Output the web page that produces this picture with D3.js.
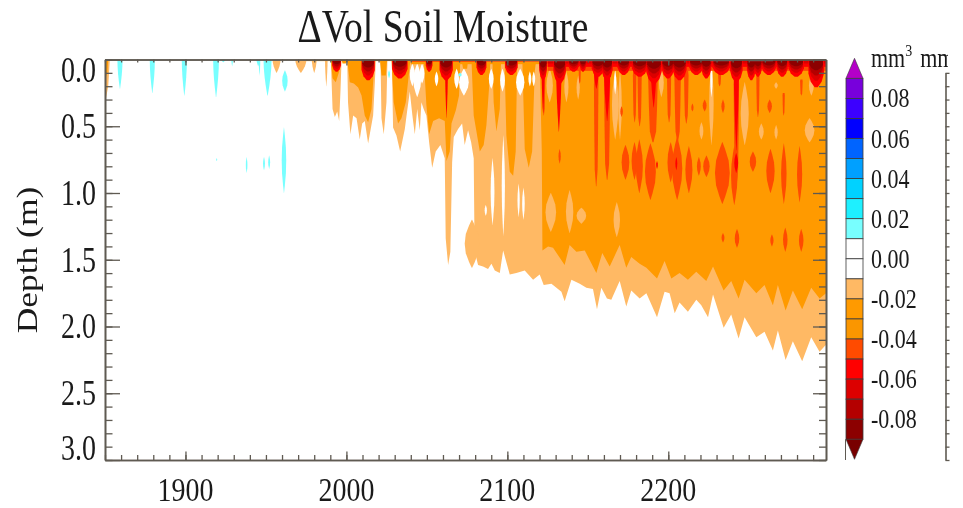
<!DOCTYPE html>
<html>
<head>
<meta charset="utf-8">
<script src="https://cdnjs.cloudflare.com/ajax/libs/d3/7.8.5/d3.min.js"></script>
<style>
  html, body { margin: 0; padding: 0; background: #fff; }
  svg { display: block; filter: blur(0.45px); }
  text { font-family: "Liberation Serif", serif; fill: #1a1a1a; }
  .field { filter: blur(0.7px); }
</style>
</head>
<body>
<div id="chart"></div>
<script>
// colour levels of the bar, top to bottom (level is the upper edge of the cell)
const barLevels = [0.09, 0.08, 0.07, 0.06, 0.05, 0.04, 0.03, 0.02, 0.01, 0.00, -0.01, -0.02, -0.03, -0.04, -0.05, -0.06, -0.07, -0.08];
const barColors = ["#7800dc", "#3c00ff", "#0000ff", "#0064ff", "#00a0ff", "#00d2ff", "#1ef0ff", "#78ffff", "#ffffff", "#ffffff",
  "#ffb964", "#ff9a00", "#fa9600", "#ff4b00", "#ff0000", "#dc0000", "#b40000", "#8c0000"];
const barLabels = [0.08, 0.06, 0.04, 0.02, 0.00, -0.02, -0.04, -0.06, -0.08];

const depthLabels = [0, 0.5, 1, 1.5, 2, 2.5, 3];
const yearLabels = [1900, 2000, 2100, 2200];

// lower edge of the -0.01 contour, [year, depth]
const lightEdge = [[1850, 0.33], [1852, 0.2], [1853, 0], [1990.3, 0], [1991.4, 0.37], [1992.8, 0.43], [1994.3, 0.39], [1995.5, 0.46], [1996.3, 0.24], [1997, 0],
  [2000.5, 0], [2001, 0.32], [2002.5, 0.56], [2004.2, 0.42], [2006.3, 0.44], [2008.3, 0.6], [2009.8, 0.48], [2011.4, 0.46], [2013.5, 0.63], [2016.6, 0.42], [2017.6, 0.19], [2018.3, 0],
  [2021.2, 0], [2021.8, 0.44], [2023.2, 0.56], [2024.9, 0.32], [2025.5, 0], [2028.2, 0], [2029, 0.51], [2031.1, 0.57], [2033.4, 0.69], [2036.3, 0.52], [2037.7, 0.39], [2039.4, 0.24],
  [2041, 0.42], [2042.5, 0.56], [2044, 0.37], [2045.6, 0.53], [2046.6, 0.32], [2048, 0.37], [2049.7, 0.42], [2051.4, 0.62], [2053.3, 0.81], [2055.5, 0.69], [2058.4, 0.64], [2061.1, 0.74],
  [2061.7, 1.34], [2063.2, 1.54], [2064.6, 1.44], [2065.7, 0.77], [2066.7, 0.58], [2069.4, 0.52], [2071.9, 0.48], [2073.5, 0.64], [2075.6, 0.53], [2077.5, 0.62], [2079.1, 0.74], [2079.5, 1.24],
  [2079.8, 1.44], [2081.8, 1.54], [2084.9, 1.55], [2088, 1.57], [2090.1, 1.53], [2092.2, 1.58], [2095.3, 1.6], [2097.4, 1.43], [2101.5, 1.61], [2105.6, 1.6], [2110.8, 1.58], [2116, 1.65],
  [2120.1, 1.61], [2122.6, 1.69], [2127.4, 1.68], [2130.5, 1.71], [2133.6, 1.74], [2135.6, 1.81], [2139.8, 1.65], [2145, 1.68], [2149.1, 1.71], [2153.2, 1.72], [2155.7, 1.87], [2158.4, 1.71],
  [2161.9, 1.79], [2164.6, 1.8], [2169.8, 1.66], [2173.9, 1.85], [2177, 1.73], [2182.2, 1.79], [2186.4, 1.75], [2193, 1.93], [2197.7, 1.74], [2200.8, 1.75], [2204, 1.9], [2207, 1.82],
  [2212.2, 1.89], [2217.4, 1.8], [2220.5, 1.84], [2224.7, 1.93], [2227.8, 1.76], [2234.4, 2.01], [2239.1, 1.91], [2243.7, 2.09], [2247.4, 1.93], [2254.7, 2.08], [2259.8, 2.04], [2265, 2.18],
  [2268.1, 2.03], [2272.9, 2.25], [2277.4, 2.11], [2283.2, 2.26], [2288.8, 2.08], [2294, 2.19], [2297.7, 2.14], [2298, 2.14]];

// lower edge of the -0.02 contour, [year, depth]
const midEdge = [[1850, 0.15], [1851.5, 0.1], [1852, 0], [1990.3, 0], [1991.4, 0.14], [1993.4, 0.17], [1995.5, 0.09], [1996.3, 0], [1997, 0], [1997.6, 0.03], [1999.6, 0.03], [2000.5, 0],
  [2002.1, 0.17], [2004.6, 0.18], [2007.3, 0.21], [2009.4, 0.27], [2011.4, 0.42], [2013.5, 0.47], [2015.6, 0.37], [2017, 0.09], [2017.6, 0], [2020.8, 0], [2021.8, 0.12], [2024.5, 0.12], [2025.3, 0],
  [2028, 0], [2029.4, 0.32], [2032.1, 0.48], [2034.2, 0.44], [2036.9, 0.32], [2039, 0.09], [2039.8, 0], [2048.1, 0], [2049.7, 0.34], [2051.4, 0.56], [2053.9, 0.46], [2057.6, 0.44], [2061.1, 0.46],
  [2062.2, 0.76], [2064.2, 0.69], [2065.3, 0.48], [2068, 0.38], [2070, 0.27], [2070.8, 0], [2071.5, 0], [2072.5, 0.07], [2075, 0.07], [2075.6, 0], [2077.7, 0], [2079.1, 0.42], [2080.8, 0.54],
  [2082.9, 0.69], [2085.3, 0.64], [2087, 0.49], [2088.6, 0.22], [2089.5, 0], [2090.7, 0], [2091.5, 0.32], [2093.2, 0.54], [2095.3, 0.37], [2096.1, 0], [2098.2, 0], [2099.4, 0.57], [2101.5, 0.84],
  [2103.6, 0.87], [2105.2, 0.69], [2106, 0.09], [2106.7, 0], [2109.3, 0], [2110.8, 0.67], [2113.3, 0.81], [2115.4, 0.69], [2117, 0.09], [2118, 0], [2120.1, 0], [2121.4, 0.69],
  [2121.8, 1.43], [2125.3, 1.4], [2128.4, 1.41], [2135.6, 1.54], [2138.7, 1.39], [2142.9, 1.44], [2148.1, 1.43], [2155.3, 1.6], [2159, 1.45], [2163.6, 1.55], [2169.8, 1.39], [2173.9, 1.56],
  [2177, 1.48], [2182.2, 1.53], [2186.4, 1.56], [2193, 1.64], [2197.7, 1.51], [2201.9, 1.64], [2207, 1.6], [2212.2, 1.65], [2217.4, 1.59], [2223.6, 1.66], [2227.8, 1.55], [2234.4, 1.73],
  [2239.1, 1.66], [2243.7, 1.79], [2247.4, 1.65], [2254.7, 1.75], [2259.8, 1.69], [2265, 1.84], [2268.1, 1.69], [2272.9, 1.88], [2277.4, 1.73], [2283.2, 1.87], [2288.8, 1.71], [2294, 1.79], [2298, 1.75]];

// patches as [year, half width in years, top depth, bottom depth]
const lightBlob = [[2078, 4.5, 1.2, 1.56]];
const lightPatches = [[2127, 3.3, 1.0, 1.29], [2138.7, 2.3, 0.98, 1.3], [2146, 3, 1.11, 1.23], [2168, 2, 1.07, 1.33],
  [2126.3, 2, 0.07, 0.32], [2136.7, 1.3, 0.09, 0.32], [2144, 1, 0.12, 0.3], [2167, 2, 0.08, 0.6], [2170, 1.1, 0.08, 0.6], [2195.7, 1.5, 0.07, 0.28],
  [2226.8, 1.4, 0.02, 0.64], [2247.5, 2.5, 0.17, 0.64], [2257.8, 1.5, 0.48, 0.6], [2220.6, 1.2, 0.47, 0.6], [2267, 1, 0.17, 0.22], [2267, 1, 0.49, 0.6],
  [2287.8, 3, 0.44, 0.62], [2288.9, 1.5, 0.12, 0.27]];
const whiteHoles = [[2041, 1.6, 0.03, 0.2], [2044, 2.4, 0.03, 0.28], [2047, 1.5, 0.03, 0.18], [2056, 1.1, 0.09, 0.2], [2068.5, 1.5, 0.07, 0.22], [2073, 3, 0.07, 0.27], [2090, 1.5, 0.07, 0.22], [2097, 1.5, 0.07, 0.24], [2108, 2.6, 0.07, 0.27],
  [2114, 0.9, 0.09, 0.2], [2116.4, 0.9, 0.09, 0.2], [2090.8, 1.2, 0.74, 1.24], [2097.5, 1, 0.57, 1.32], [2086.6, 0.7, 1.09, 1.17], [2107, 0.7, 0.93, 1.18], [2110, 0.8, 0.96, 1.2],
  [2167, 0.7, 0.08, 0.26], [2226.8, 0.7, 0.02, 0.28]];
const orangePatches = [[2173.4, 2.4, 0.64, 0.9], [2179, 1.8, 0.62, 0.9], [2182, 2.2, 0.6, 1.0], [2188.9, 3.4, 0.63, 1.05], [2201.5, 2, 0.62, 0.92], [2205.5, 3.2, 0.58, 1.05], [2212.8, 2.2, 0.65, 1.0], [2219, 1.2, 0.73, 0.87],
  [2223.7, 2, 0.72, 0.88], [2233.6, 4.6, 0.62, 1.08], [2241, 2, 0.65, 1.09], [2252.6, 2, 0.69, 0.84], [2263.5, 2.6, 0.67, 1.0], [2271.8, 1.7, 0.63, 1.08], [2281.6, 1.6, 0.65, 1.07],
  [2132.5, 0.7, 0.67, 0.78], [2171, 0.8, 0.35, 0.43], [2222.6, 1.2, 0.3, 0.39], [2234, 1, 0.3, 0.4], [2263, 1.4, 0.3, 0.4], [2215, 0.7, 0.33, 0.39],
  [2234, 0.9, 1.3, 1.37], [2242.7, 1.4, 1.27, 1.41], [2264.4, 1, 1.31, 1.4], [2272.7, 1.4, 1.26, 1.44], [2282.6, 1.4, 1.27, 1.44]];
const orangeStreaks = [[2155.2, 1.4, 0.1, 0.95], [2162, 1.9, 0.1, 0.9], [2179.1, 1.1, 0.08, 0.47], [2182.2, 1.3, 0.08, 0.5], [2190.5, 3, 0.08, 0.62], [2200.5, 1.3, 0.08, 0.47], [2205.8, 2, 0.08, 0.62],
  [2211.2, 1.4, 0.08, 0.48], [2231.9, 1, 0.08, 0.2], [2255.7, 1, 0.1, 0.43], [2271.7, 0.7, 0.25, 0.42], [2282.7, 0.8, 0.15, 0.27], [2242.3, 1.7, 0.1, 0.95], [2122.6, 1, 0.05, 0.42], [2145, 0.7, 0.05, 0.18]];
const redPatches = [[2205, 0.6, 0.73, 0.83], [2193, 0.5, 0.76, 0.82], [2242.2, 1.2, 0.7, 0.85]];
// red plumes hanging from the surface
const redPlumes = [[2062.2, 0.9, 0.04, 0.44], [2122.2, 1, 0.03, 0.4], [2132, 1.7, 0.05, 0.54], [2162, 2, 0.05, 0.46], [2242.3, 1.6, 0.05, 0.68], [2190.9, 1.7, 0.08, 0.36], [2155.3, 1.6, 0.08, 0.22]];
const shallowPlumes = [[1956.6, 2.5, 0, 0.1], [1971.7, 3.5, 0, 0.1], [1980, 1.5, 0, 0.1], [1987.5, 0.8, 0, 0.2]];
// surface maxima as [year, half width, depth of the -0.06 edge]
const surfaceBlobs = [[1993.9, 2.4, 0.07], [2013.5, 3.6, 0.12], [2033.2, 4.2, 0.11], [2051.4, 1.8, 0.07], [2062, 3.6, 0.12], [2083.9, 2.7, 0.09], [2102.5, 3.4, 0.09], [2122.2, 2.1, 0.12], [2132.5, 3.4, 0.14],
  [2141.2, 3, 0.07], [2147, 1.8, 0.07], [2156.3, 3.4, 0.1], [2162, 3, 0.12], [2172.3, 3.4, 0.09], [2182.2, 4.2, 0.1], [2191.1, 4.2, 0.14], [2199.8, 3.4, 0.11], [2207, 3.8, 0.12],
  [2217.4, 3.8, 0.09], [2223.6, 2.7, 0.11], [2232.9, 4.8, 0.09], [2242.3, 3.4, 0.13], [2251.6, 2.4, 0.12], [2255.7, 2.2, 0.1], [2262.5, 4, 0.09], [2270.8, 3, 0.1], [2279.5, 4.2, 0.1], [2291.9, 4.2, 0.16]];
const surfaceScale = [1.3, 1, 0.75, 0.5];
const surfaceColors = ["#ff0000", "#dc0000", "#b40000", "#8c0000"];
// start year, end year, depth, colour
const surfaceBands = [[1975, 2040, 0.012, "#ff9a00"], [2040, 2125, 0.035, "#ff9a00"], [2040, 2125, 0.018, "#ff4b00"], [2125, 2298, 0.085, "#ff4b00"], [2125, 2298, 0.055, "#ff0000"], [2125, 2298, 0.03, "#dc0000"]];
const cyanPlumes = [[1859.3, 1.6, 0, 0.22], [1879.4, 1.6, 0, 0.25], [1899.3, 1.6, 0, 0.27], [1919, 1.8, 0, 0.28], [1923.5, 1.3, 0, 0.02], [1929, 0.5, 0, 0.05], [1945.2, 1, 0, 0.05], [1946, 0.5, 0, 0.12], [1951, 2.5, 0, 0.27]];
const cyanPatches = [[1961.8, 1.7, 0.08, 0.24], [1961.2, 1.4, 0.51, 1.0], [1938, 0.5, 0.73, 0.85], [1948.8, 0.6, 0.73, 0.83], [1952, 0.6, 0.72, 0.82], [1919.4, 0.3, 0.74, 0.76],
  [2070.6, 1, 0.1, 0.13], [2026.5, 0.6, 0.08, 0.14]];
const cyanSurface = [[2085, 2100], [2110, 2160], [2165, 2200], [2226, 2240], [2250, 2265]];

// taper of the patches along their length, 0 top to 1 bottom
const plumeTaper = [[0, 1], [0.25, 0.92], [0.5, 0.72], [0.75, 0.42], [1, 0.05]];
const lensTaper = [[0, 0.03], [0.12, 0.4], [0.3, 0.85], [0.5, 1], [0.7, 0.85], [0.88, 0.4], [1, 0.03]];
const streakTaper = [[0, 0.8], [0.1, 1], [0.5, 0.85], [0.85, 0.65], [1, 0.1]];
const blobTaper = [[0, 1], [0.5, 1], [0.8, 0.7], [1, 0.2]];

const width = 963, height = 508;
const plot = { left: 105, right: 826, top: 59.5, bottom: 460 };
const textStretch = 1.28;
const yearStretch = 1.18;

const x = d3.scaleLinear().domain([1850, 2298]).range([plot.left, plot.right]);
const y = d3.scaleLinear().domain([0, 3]).range([plot.top, plot.bottom]);
const barY = d3.scaleLinear().domain([0.1, -0.1]).range([58.3, 459.3]);

const svg = d3.select("#chart").append("svg").attr("width", width).attr("height", height);
const defs = svg.append("defs");
defs.append("clipPath").attr("id", "plot-clip").append("rect")
  .attr("x", plot.left).attr("y", plot.top).attr("width", plot.right - plot.left).attr("height", plot.bottom - plot.top);
defs.append("clipPath").attr("id", "unit-clip").append("rect")
  .attr("x", 860).attr("y", 30).attr("width", 88).attr("height", 60);

const field = svg.append("g").attr("clip-path", "url(#plot-clip)").append("g").attr("class", "field");

const edgeArea = d3.area().x(d => x(d[0])).y0(y(0)).y1(d => y(d[1]));

// Tapered patch around its centre year.
function patchPath(d, taper) {
  return d3.area()
    .x0(t => x(d[0] - d[1] * t[1]))
    .x1(t => x(d[0] + d[1] * t[1]))
    .y(t => y(d[2] + (d[3] - d[2]) * t[0]))(taper);
}

function addPatches(list, taper, color) {
  field.append("g").selectAll("path").data(list).join("path")
    .attr("d", d => patchPath(d, taper))
    .attr("fill", color);
}

field.append("path").attr("d", edgeArea(lightEdge)).attr("fill", "#ffb964");
addPatches(lightBlob, lensTaper, "#ffb964");
field.append("path").attr("d", edgeArea(midEdge)).attr("fill", "#ff9a00");
addPatches(shallowPlumes, plumeTaper, "#ffb964");
addPatches(lightPatches, lensTaper, "#ffb964");
addPatches(whiteHoles, lensTaper, "#ffffff");

field.append("g").selectAll("rect").data(surfaceBands).join("rect")
  .attr("x", d => x(d[0]))
  .attr("y", y(0))
  .attr("width", d => x(d[1]) - x(d[0]))
  .attr("height", d => y(d[2]) - y(0))
  .attr("fill", d => d[3]);

addPatches(orangeStreaks, streakTaper, "#ff4b00");
addPatches(orangePatches, lensTaper, "#ff4b00");
addPatches(redPatches, lensTaper, "#ff0000");
addPatches(redPlumes, plumeTaper, "#ff0000");

surfaceColors.forEach((color, i) => {
  const blobs = surfaceBlobs.map(d => [d[0], d[1] * (i ? 1 : 1.15), 0, d[2] * surfaceScale[i]]);
  addPatches(blobs, blobTaper, color);
});

addPatches(cyanPlumes, plumeTaper, "#78ffff");
addPatches(cyanPatches, lensTaper, "#78ffff");
field.append("g").selectAll("rect").data(cyanSurface).join("rect")
  .attr("x", d => x(d[0]))
  .attr("y", y(0))
  .attr("width", d => x(d[1]) - x(d[0]))
  .attr("height", 1.6)
  .attr("fill", "#78e8f0");

// axes
const axisColor = "#5f5a52";
function styleAxis(g) {
  g.selectAll("path.domain").attr("stroke", axisColor).attr("stroke-width", 1.6);
  g.selectAll(".tick line").attr("stroke", axisColor).attr("stroke-width", 1.3);
  g.selectAll("text").remove();
}

const yearTicks = d3.range(1850, 2298, 10);
const depthTicks = d3.range(0, 3.01, 0.1).map(d => +d.toFixed(1));

const leftMinor = d3.axisLeft(y).tickValues(depthTicks).tickSize(-7.5).tickSizeOuter(0);
const leftMajor = d3.axisLeft(y).tickValues(depthLabels).tickSize(-15).tickSizeOuter(0);
const rightMinor = d3.axisRight(y).tickValues(depthTicks).tickSize(-7).tickSizeOuter(0);
const rightMajor = d3.axisRight(y).tickValues(depthLabels).tickSize(-13).tickSizeOuter(0);
const bottomMinor = d3.axisBottom(x).tickValues(yearTicks).tickSize(-5).tickSizeOuter(0);
const bottomMajor = d3.axisBottom(x).tickValues(yearLabels).tickSize(-8.5).tickSizeOuter(0);
const topMinor = d3.axisTop(x).tickValues(yearTicks).tickSize(-3).tickSizeOuter(0);
const topMajor = d3.axisTop(x).tickValues(yearLabels).tickSize(-6).tickSizeOuter(0);

[[leftMinor, plot.left, 0], [leftMajor, plot.left, 0], [rightMinor, plot.right, 0], [rightMajor, plot.right, 0],
 [bottomMinor, 0, plot.bottom], [bottomMajor, 0, plot.bottom], [topMinor, 0, plot.top], [topMajor, 0, plot.top]]
  .forEach(a => svg.append("g").attr("transform", `translate(${a[1]},${a[2]})`).call(a[0]).call(styleAxis));

// stretched labels, the picture is taller than it should be
svg.append("g").selectAll("text").data(depthLabels).join("text")
  .attr("text-anchor", "end")
  .attr("font-size", 28)
  .attr("dy", "0.33em")
  .attr("transform", (d, i) => {
    const shift = i === 0 ? 11 : i === depthLabels.length - 1 ? -12 : 0;
    return `translate(96,${y(d) + shift}) scale(1,${textStretch})`;
  })
  .text(d => d3.format(".1f")(d));

svg.append("g").selectAll("text").data(yearLabels).join("text")
  .attr("text-anchor", "middle")
  .attr("font-size", 28)
  .attr("transform", d => `translate(${x(d)},500.5) scale(1,${yearStretch})`)
  .text(d => d);

svg.append("text")
  .attr("text-anchor", "middle")
  .attr("font-size", 37.6)
  .attr("transform", `translate(443,42) scale(1,1.22)`)
  .text("\u0394Vol Soil Moisture");

svg.append("text")
  .attr("text-anchor", "middle")
  .attr("font-size", 30)
  .attr("transform", `translate(37,260) scale(1,1.18) rotate(-90)`)
  .text("Depth (m)");

// colour bar
const bar = { left: 846, right: 863 };
const barG = svg.append("g");
barG.selectAll("rect").data(barLevels).join("rect")
  .attr("x", bar.left)
  .attr("width", bar.right - bar.left)
  .attr("y", d => barY(d))
  .attr("height", d => barY(d - 0.01) - barY(d))
  .attr("fill", (d, i) => barColors[i])
  .attr("stroke", "#3a3a3a")
  .attr("stroke-width", 0.8);
barG.append("path")
  .attr("d", d3.line()([[bar.left, barY(0.09)], [(bar.left + bar.right) / 2, barY(0.1)], [bar.right, barY(0.09)]]) + "Z")
  .attr("fill", "#b400c8").attr("stroke", "#3a3a3a").attr("stroke-width", 0.6);
barG.append("path")
  .attr("d", d3.line()([[bar.left, barY(-0.09)], [(bar.left + bar.right) / 2, barY(-0.1)], [bar.right, barY(-0.09)]]) + "Z")
  .attr("fill", "#780000").attr("stroke", "#3a3a3a").attr("stroke-width", 0.6);
barG.append("line")
  .attr("x1", bar.left - 0.5).attr("x2", bar.left - 0.5)
  .attr("y1", barY(-0.09)).attr("y2", plot.bottom)
  .attr("stroke", axisColor).attr("stroke-width", 1);

svg.append("g").selectAll("text").data(barLabels).join("text")
  .attr("font-size", 22)
  .attr("dy", "0.33em")
  .attr("transform", d => `translate(871,${barY(d)}) scale(1,1.25)`)
  .text(d => d3.format(".2f")(d).replace("\u2212", "-"));

const unit = svg.append("g").attr("clip-path", "url(#unit-clip)")
  .append("text").attr("font-size", 22)
  .attr("transform", "translate(871,67) scale(1,1.25)");
unit.append("tspan").text("mm");
unit.append("tspan").attr("font-size", 14).attr("dy", -9).text("3");
unit.append("tspan").attr("dy", 9).attr("dx", 8).text("mm");

// right hand frame cut off by the picture
const sideScale = d3.scaleLinear().domain([0.1, 3]).range([y(0.1), y(3)]);
const sideAxis = d3.axisRight(sideScale).tickValues(depthTicks.slice(1)).tickSize(4).tickSizeOuter(0);
svg.append("g").attr("transform", "translate(945.5,0)").call(sideAxis).call(styleAxis);
</script>
</body>
</html>
